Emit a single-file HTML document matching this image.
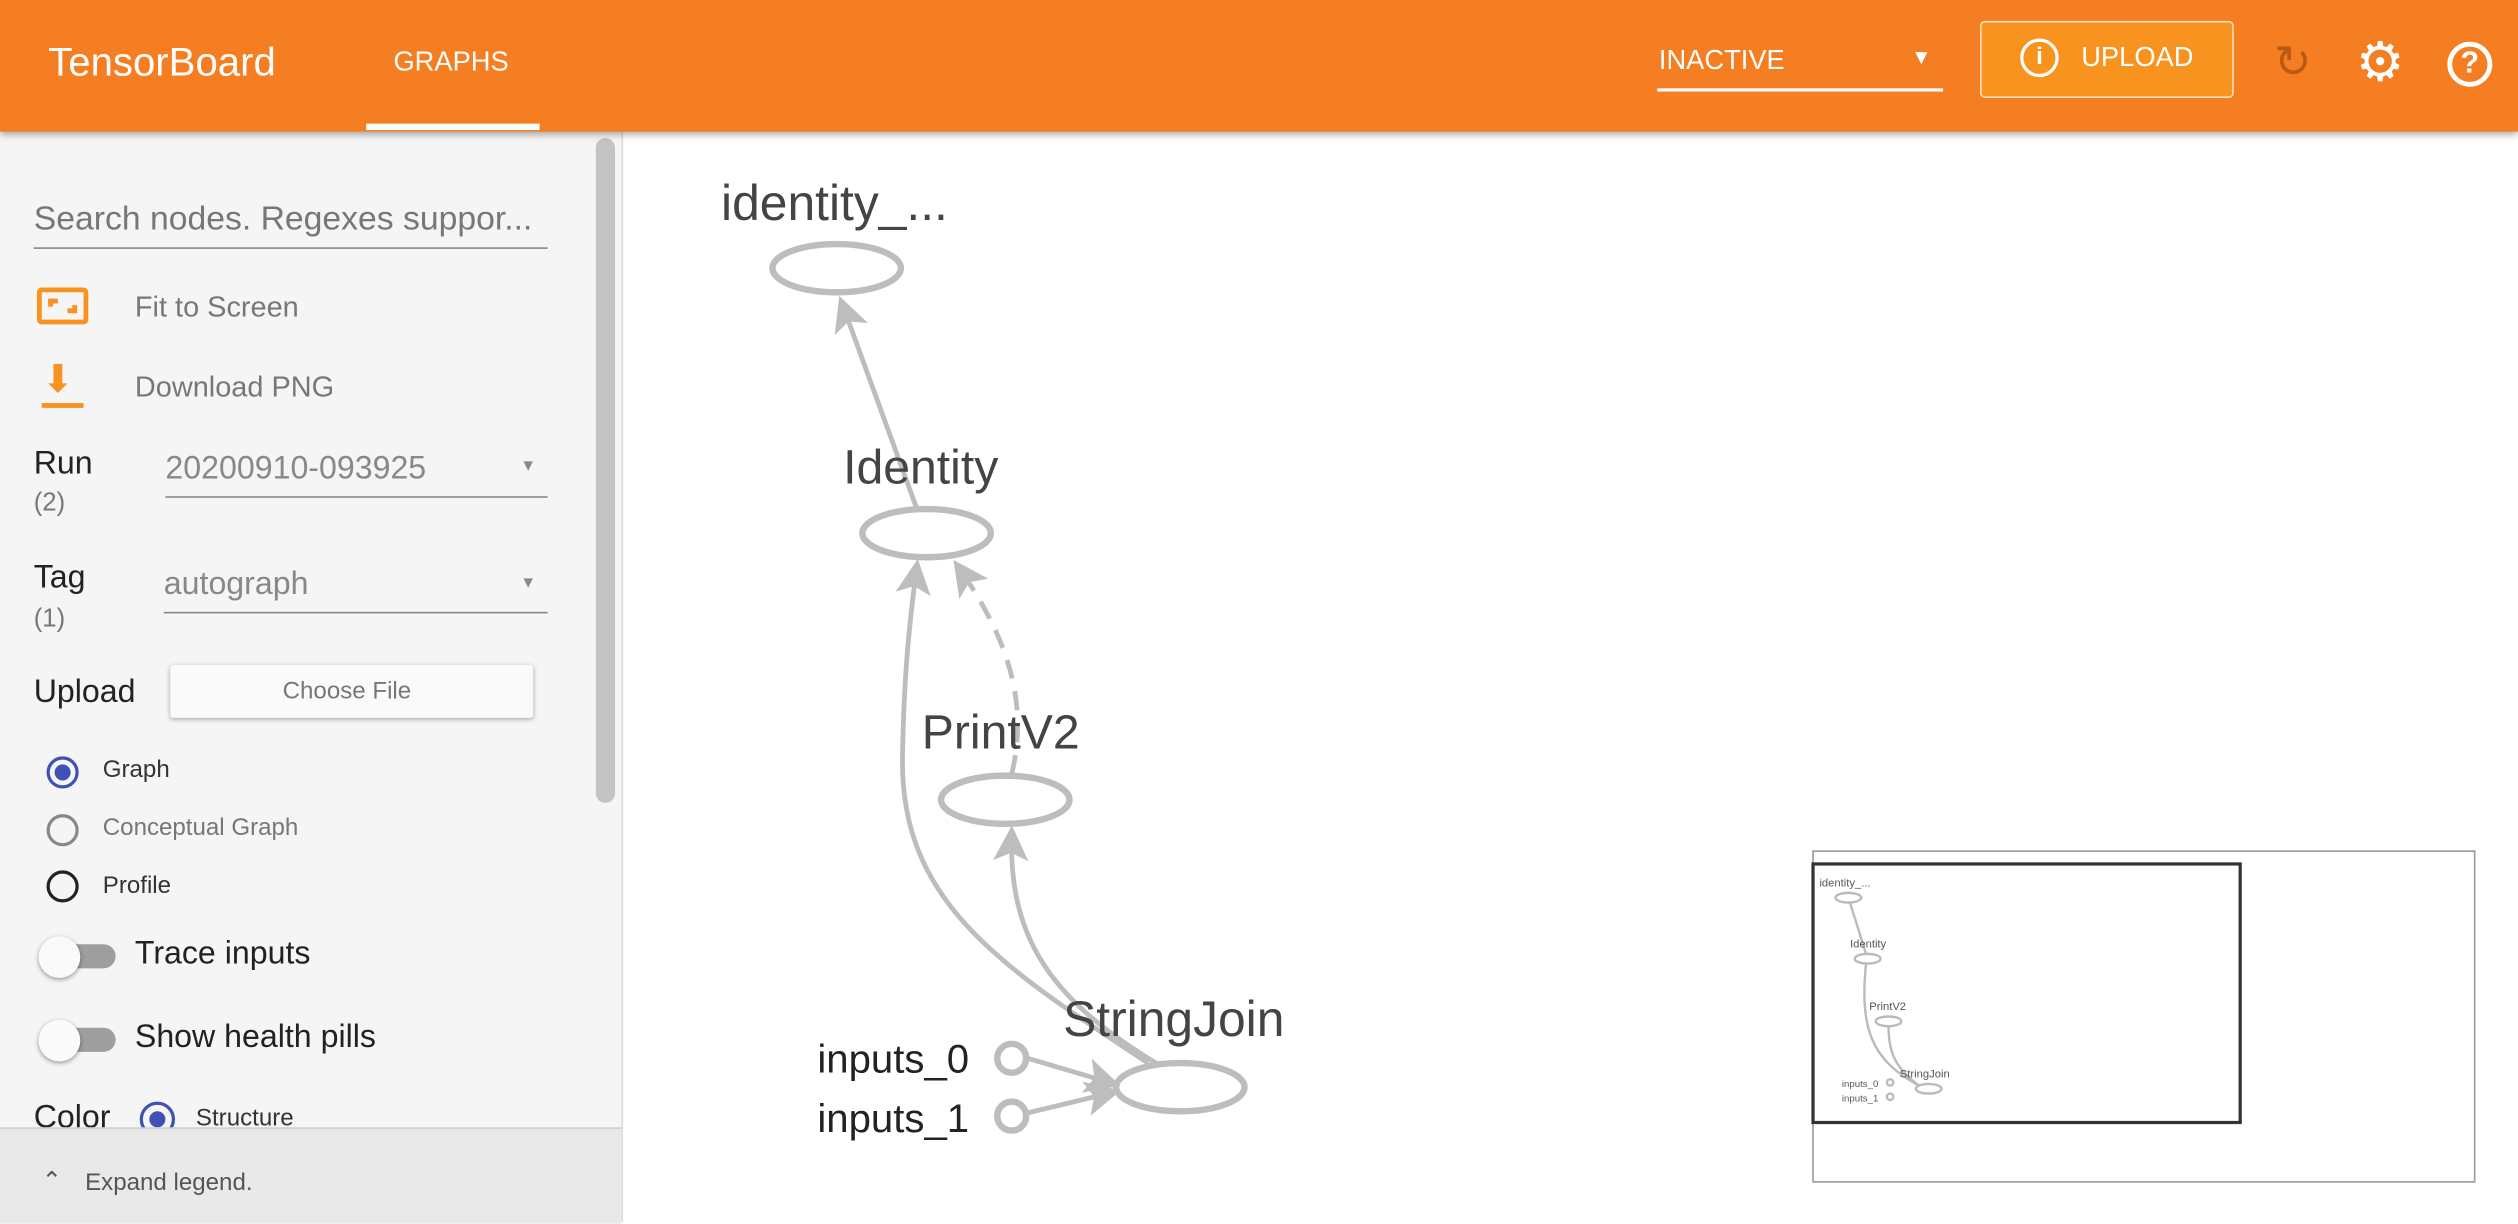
<!DOCTYPE html>
<html><head><meta charset="utf-8"><style>
html,body{margin:0;padding:0;width:2518px;height:1222px;overflow:hidden;background:#fff;font-family:"Liberation Sans",sans-serif}
#w{position:absolute;left:0;top:0;width:1568px;height:761px;transform:scale(1.60587);transform-origin:0 0;background:#fff}
.a{position:absolute}
.hdr{left:0;top:0;width:1568px;height:82px;background:#f47e21;box-shadow:0 2px 4px rgba(0,0,0,.3);z-index:2}
.side{left:0;top:82px;width:387px;height:679px;background:#f5f5f5;border-right:1px solid #ddd}
.t{position:absolute;white-space:nowrap}
.rad{position:absolute;width:16px;height:16px;border-radius:50%;border:2px solid #757575;box-sizing:border-box}
.tog{position:absolute;width:50px;height:20px}
.tog .tr{position:absolute;left:12px;top:3px;width:38px;height:15px;border-radius:8px;background:#9e9e9e}
.tog .kn{position:absolute;left:2px;top:-2px;width:26px;height:26px;border-radius:50%;background:#fafafa;box-shadow:0 1px 3px rgba(0,0,0,.4)}
</style></head><body><div id="w">
<div class="a hdr">
 <div class="t" style="left:30px;top:25px;font-size:25px;color:#fff">TensorBoard</div>
 <div class="t" style="left:245px;top:29px;font-size:17px;color:#fff">GRAPHS</div>
 <div class="a" style="left:228px;top:77px;width:108px;height:4px;background:#fff"></div>
 <div class="t" style="left:1033px;top:28px;font-size:17px;color:#fff">INACTIVE</div>
 <div class="t" style="left:1190px;top:28px;font-size:13px;color:#fff">▼</div>
 <div class="a" style="left:1032px;top:55px;width:178px;height:2px;background:#fff"></div>
 <div class="a" style="left:1233px;top:13px;width:156px;height:46px;border:1px solid #fde0c0;border-radius:3px;background:#f7931e"></div>
 <div class="a" style="left:1258px;top:24px;width:24px;height:24px;border:2px solid #fff;border-radius:50%;box-sizing:border-box;color:#fff;font-size:15px;text-align:center;line-height:20px;font-weight:bold">i</div>
 <div class="t" style="left:1296px;top:26px;font-size:17px;color:#fff">UPLOAD</div>
 <div class="t" style="left:1416px;top:22px;font-size:28px;color:#b85a12">↻</div>
 <div class="t" style="left:1467px;top:19px;font-size:34px;color:#fff">⚙</div>
 <div class="a" style="left:1524px;top:26px;width:28px;height:28px;border:3px solid #fff;border-radius:50%;box-sizing:border-box;color:#fff;font-size:19px;text-align:center;line-height:22px;font-weight:bold">?</div>
</div>
<div class="a side">
 <div class="t" style="left:21px;top:43px;font-size:21px;color:#777">Search nodes. Regexes suppor...</div>
 <div class="a" style="left:21px;top:72px;width:320px;height:1px;background:#888"></div>
 <div class="a" style="left:23px;top:97px;width:32px;height:23px;border:3px solid #f7931e;border-radius:3px;box-sizing:border-box"><div style="position:absolute;left:4px;top:4px;width:6px;height:5px;border-left:3px solid #f7931e;border-top:3px solid #f7931e;box-sizing:border-box"></div><div style="position:absolute;right:4px;bottom:4px;width:6px;height:5px;border-right:3px solid #f7931e;border-bottom:3px solid #f7931e;box-sizing:border-box"></div></div>
 <div class="t" style="left:84px;top:99px;font-size:18px;color:#777">Fit to Screen</div>
 <div class="t" style="left:26px;top:140px;font-size:24px;color:#f7931e">⬇</div>
 <div class="a" style="left:26px;top:169px;width:26px;height:3px;background:#f7931e"></div>
 <div class="t" style="left:84px;top:149px;font-size:18px;color:#777">Download PNG</div>
 <div class="t" style="left:21px;top:196px;font-size:20px;color:#222">Run</div>
 <div class="t" style="left:21px;top:223px;font-size:16px;color:#777">(2)</div>
 <div class="t" style="left:103px;top:199px;font-size:20px;color:#888">20200910-093925</div>
 <div class="t" style="left:324px;top:203px;font-size:10px;color:#888">▼</div>
 <div class="a" style="left:103px;top:227px;width:238px;height:1px;background:#888"></div>
 <div class="t" style="left:21px;top:267px;font-size:20px;color:#222">Tag</div>
 <div class="t" style="left:21px;top:295px;font-size:16px;color:#777">(1)</div>
 <div class="t" style="left:102px;top:271px;font-size:20px;color:#888">autograph</div>
 <div class="t" style="left:324px;top:276px;font-size:10px;color:#888">▼</div>
 <div class="a" style="left:102px;top:299px;width:239px;height:1px;background:#888"></div>
 <div class="t" style="left:21px;top:338px;font-size:20px;color:#222">Upload</div>
 <div class="a" style="left:106px;top:332px;width:226px;height:33px;background:#fafafa;border-radius:2px;box-shadow:0 1px 3px rgba(0,0,0,.3)"></div>
 <div class="t" style="left:176px;top:340px;font-size:15px;color:#777">Choose File</div>
 <div class="rad" style="left:29px;top:389px;width:20px;height:20px;border-color:#3f51b5"><div style="position:absolute;left:3px;top:3px;width:10px;height:10px;border-radius:50%;background:#3f51b5"></div></div>
 <div class="t" style="left:64px;top:389px;font-size:15px;color:#333">Graph</div>
 <div class="rad" style="left:29px;top:425px;width:20px;height:20px;border-color:#888"></div>
 <div class="t" style="left:64px;top:425px;font-size:15px;color:#777">Conceptual Graph</div>
 <div class="rad" style="left:29px;top:460px;width:20px;height:20px;border-color:#222"></div>
 <div class="t" style="left:64px;top:461px;font-size:15px;color:#333">Profile</div>
 <div class="tog" style="left:22px;top:503px"><div class="tr"></div><div class="kn"></div></div>
 <div class="t" style="left:84px;top:501px;font-size:20px;color:#222">Trace inputs</div>
 <div class="tog" style="left:22px;top:555px"><div class="tr"></div><div class="kn"></div></div>
 <div class="t" style="left:84px;top:553px;font-size:20px;color:#222">Show health pills</div>
 <div class="t" style="left:21px;top:603px;font-size:20px;color:#222">Color</div>
 <div class="rad" style="left:87px;top:604px;width:22px;height:22px;border-color:#3f51b5"><div style="position:absolute;left:4px;top:4px;width:10px;height:10px;border-radius:50%;background:#3f51b5"></div></div>
 <div class="t" style="left:122px;top:606px;font-size:15px;color:#333">Structure</div>
 <div class="a" style="left:371px;top:4px;width:12px;height:414px;background:#c4c4c4;border-radius:6px"></div>
 <div class="a" style="left:0;top:620px;width:387px;height:59px;background:#e9e9e9;border-top:1px solid #d0d0d0"></div>
 <div class="t" style="left:26px;top:644px;font-size:15px;color:#555">⌃</div>
 <div class="t" style="left:53px;top:646px;font-size:15px;color:#555">Expand legend.</div>
</div>
<svg class="a" style="left:0;top:0" width="1568" height="761">
 <defs>
 <marker id="ab" markerWidth="22" markerHeight="22" refX="18" refY="11" orient="auto" markerUnits="userSpaceOnUse"><path d="M0,0 L22,11 L0,22 L5,11 z" fill="#bdbdbd"/></marker></defs>
 <g fill="none" stroke="#bdbdbd" stroke-width="4">
 <ellipse cx="521" cy="167" rx="40" ry="15"/>
 <ellipse cx="577" cy="332" rx="40" ry="15"/>
 <ellipse cx="626" cy="498" rx="40" ry="15"/>
 <ellipse cx="735" cy="677" rx="40" ry="15"/>
 <circle cx="630" cy="659" r="9"/><circle cx="630" cy="695" r="9"/>
 <path d="M571,317 L524,188" marker-end="url(#ab)" stroke-width="3"/>
 <path d="M715,662 C620,600 560,560 562,470 C563,420 566,390 571,352" marker-end="url(#ab)" stroke-width="3"/>
 <path d="M720,662 C650,620 628,580 630,518" marker-end="url(#ab)" stroke-width="3"/>
 <path d="M630,482 C640,440 630,400 596,352" stroke-dasharray="12,8" marker-end="url(#ab)" stroke-width="3"/>
 <path d="M640,659 L694,675" marker-end="url(#ab)" stroke-width="3"/>
 <path d="M640,693 L694,680" marker-end="url(#ab)" stroke-width="3"/>
 </g>
 <g font-family="Liberation Sans,sans-serif" fill="#444">
 <text x="449" y="137" font-size="31">identity_...</text>
 <text x="525" y="301" font-size="30">Identity</text>
 <text x="574" y="466" font-size="30">PrintV2</text>
 <text x="662" y="645" font-size="31">StringJoin</text>
 <text x="509" y="668" font-size="25" fill="#222">inputs_0</text>
 <text x="509" y="705" font-size="25" fill="#222">inputs_1</text>
 </g>
 <rect x="1129" y="530" width="412" height="206" fill="#fff" stroke="#999" stroke-width="1"/>
 <rect x="1129" y="538" width="266" height="161" fill="none" stroke="#333" stroke-width="2"/>
 <g fill="none" stroke="#bbb" stroke-width="1.5">
 <ellipse cx="1151" cy="559" rx="8" ry="3"/><ellipse cx="1163" cy="597" rx="8" ry="3"/>
 <ellipse cx="1176" cy="636" rx="8" ry="3"/><ellipse cx="1201" cy="678" rx="8" ry="3"/>
 <circle cx="1177" cy="674" r="2"/><circle cx="1177" cy="683" r="2"/>
 <path d="M1162,594 L1152,562"/><path d="M1195,676 C1165,660 1158,640 1162,600"/><path d="M1195,676 C1180,665 1176,655 1176,639"/>
 </g>
 <g font-family="Liberation Sans,sans-serif" font-size="7" fill="#555">
 <text x="1133" y="552">identity_...</text><text x="1152" y="590">Identity</text><text x="1164" y="629">PrintV2</text><text x="1183" y="671">StringJoin</text>
 <text x="1147" y="677" font-size="6">inputs_0</text><text x="1147" y="686" font-size="6">inputs_1</text>
 </g>
</svg>
</div></body></html>
